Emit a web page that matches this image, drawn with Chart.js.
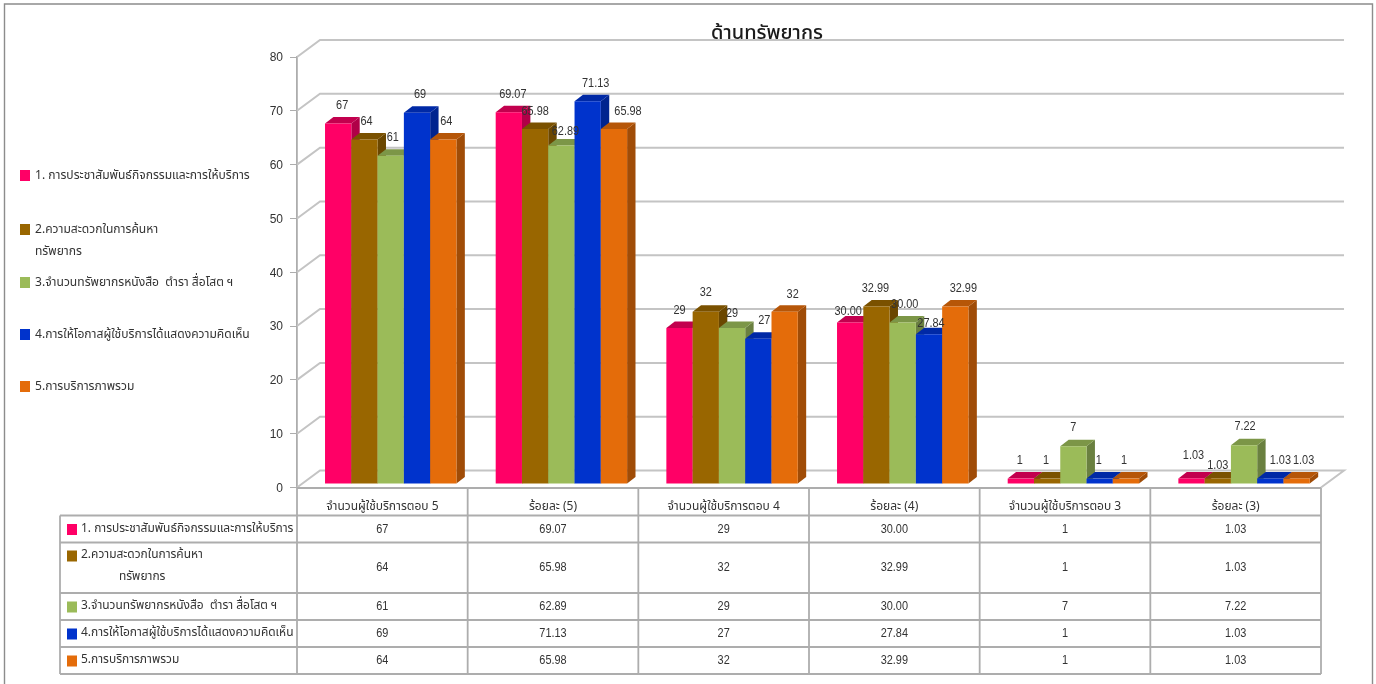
<!DOCTYPE html>
<html lang="th">
<head>
<meta charset="UTF-8">
<title>ด้านทรัพยากร</title>
<script src="https://cdnjs.cloudflare.com/ajax/libs/Chart.js/4.4.1/chart.umd.min.js"></script>
<style>
  html, body { margin: 0; padding: 0; background: #fff; }
  canvas { display: block; }
</style>
</head>
<body>
<canvas id="myChart" width="1376" height="684"></canvas>
<script>
var categories = ['จำนวนผู้ใช้บริการตอบ 5', 'ร้อยละ (5)', 'จำนวนผู้ใช้บริการตอบ 4', 'ร้อยละ (4)', 'จำนวนผู้ใช้บริการตอบ 3', 'ร้อยละ (3)'];
var seriesNames = ['1. การประชาสัมพันธ์กิจกรรมและการให้บริการ', '2.ความสะดวกในการค้นหา', '3.จำนวนทรัพยากรหนังสือ  ตำรา สื่อโสต ฯ', '4.การให้โอกาสผู้ใช้บริการได้แสดงความคิดเห็น', '5.การบริการภาพรวม'];
var wrappedName = 'ทรัพยากร';
var series1 = [67, 69.07, 29, 30.00, 1, 1.03];
var series2 = [64, 65.98, 32, 32.99, 1, 1.03];
var series3 = [61, 62.89, 29, 30.00, 7, 7.22];
var series4 = [69, 71.13, 27, 27.84, 1, 1.03];
var series5 = [64, 65.98, 32, 32.99, 1, 1.03];
var yTicks = [0, 10, 20, 30, 40, 50, 60, 70, 80];

var allSeries = [series1, series2, series3, series4, series5];
var frontColors = ['#FF0066', '#996600', '#9BBB59', '#0033CC', '#E46C0A'];
var topColors = ['#C2004E', '#7A5100', '#7C9647', '#0029A6', '#B65608'];
var sideColors = ['#B00047', '#6B4700', '#6A8040', '#00248F', '#A04C07'];

// how far each value label sits from the top middle of its bar
var labelNudge = [
  [[4, -18], [4, -18], [0, -18], [-2, -11], [-1, -18], [2, -23]],
  [[2, -18], [0, -18], [0, -19], [-1, -18], [-1, -18], [0, -13]],
  [[2, -18], [4, -14], [0, -15], [2, -18], [0, -19], [1, -19]],
  [[3, -18], [8, -18], [6, -18], [2, -11], [-1, -18], [10, -18]],
  [[3, -18], [14, -18], [8, -17], [8, -18], [-2, -18], [7, -18]]
];

var FONT = '"Noto Sans Thai", "Noto Sans", Tahoma, "DejaVu Sans", sans-serif';
var NUMFONT = '"Liberation Sans", sans-serif';
var LINE = '#c4c4c4';
var TABLELINE = '#adadad';
var TEXT = '#333';
var barShift = { x: 8.4, y: -3.5 };
var depth = { x: 8.4, y: 6.5 };
var wallShift = { x: 23, y: -17 };
var rowLines = [488, 515.5, 542.5, 593, 620, 647, 674];
var tableLeft = 60;

function poly(ctx, pts, color) {
  ctx.fillStyle = color;
  ctx.beginPath();
  pts.forEach(function (p, i) { if (i) ctx.lineTo(p[0], p[1]); else ctx.moveTo(p[0], p[1]); });
  ctx.closePath();
  ctx.fill();
}

function line(ctx, x1, y1, x2, y2) {
  ctx.beginPath();
  ctx.moveTo(x1, y1);
  ctx.lineTo(x2, y2);
  ctx.stroke();
}

function valueText(i, v) {
  return i % 2 ? v.toFixed(2) : String(v);
}

// the original screenshot is squeezed sideways, so its text is tall and narrow
function squeezedText(ctx, text, x, y, squeeze) {
  ctx.save();
  ctx.translate(x, y);
  ctx.scale(squeeze, 1);
  ctx.fillText(text, 0, 0);
  ctx.restore();
}

var walls = {
  id: 'walls',
  beforeDatasetsDraw: function (chart) {
    var ctx = chart.ctx, a = chart.chartArea, y = chart.scales.y;
    ctx.save();
    ctx.strokeStyle = LINE;
    ctx.lineWidth = 2;
    yTicks.forEach(function (t) {
      var py = y.getPixelForValue(t);
      ctx.beginPath();
      ctx.moveTo(a.left, py);
      ctx.lineTo(a.left + wallShift.x, py + wallShift.y);
      ctx.lineTo(a.right + wallShift.x, py + wallShift.y);
      if (t === 0) ctx.lineTo(a.right, py);
      ctx.stroke();
    });
    // 3d sides first, then the library's own bar on top, left to right
    ctx.translate(barShift.x, barShift.y);
    allSeries.forEach(function (s, d) {
      chart.getDatasetMeta(d).data.forEach(function (bar) {
        var l = bar.x - bar.width / 2, r = bar.x + bar.width / 2, top = bar.y, base = bar.base;
        poly(ctx, [[r, top], [r + depth.x, top - depth.y], [r + depth.x, base - depth.y], [r, base]], sideColors[d]);
        poly(ctx, [[l, top], [l + depth.x, top - depth.y], [r + depth.x, top - depth.y], [r, top]], topColors[d]);
        bar.draw(ctx, a);
      });
    });
    ctx.restore();
    return false;
  },
  afterDraw: function (chart) {
    var ctx = chart.ctx, x = chart.scales.x;
    ctx.save();
    ctx.textBaseline = 'middle';
    ctx.fillStyle = TEXT;

    // value labels
    ctx.font = '13px ' + NUMFONT;
    ctx.textAlign = 'center';
    allSeries.forEach(function (s, d) {
      chart.getDatasetMeta(d).data.forEach(function (bar, i) {
        var n = labelNudge[d][i];
        squeezedText(ctx, valueText(i, s[i]), bar.x + barShift.x + n[0], bar.y + barShift.y + n[1], 0.84);
      });
    });

    // title
    ctx.fillStyle = '#1a1a1a';
    ctx.font = '500 20px ' + FONT;
    ctx.textBaseline = 'alphabetic';
    ctx.fillText('ด้านทรัพยากร', 767, 39);
    ctx.textBaseline = 'middle';

    // left legend
    var legendY = [176, 230, 283, 335, 387];
    ctx.font = '13px ' + FONT;
    ctx.textAlign = 'left';
    seriesNames.forEach(function (name, d) {
      ctx.fillStyle = frontColors[d];
      ctx.fillRect(20, legendY[d] - 6, 10, 11);
      ctx.fillStyle = TEXT;
      squeezedText(ctx, name, 35, legendY[d], 0.93);
    });
    squeezedText(ctx, wrappedName, 35, 252, 0.93);

    // data table under the axis
    ctx.strokeStyle = TABLELINE;
    ctx.lineWidth = 1.8;
    var right = chart.chartArea.right, left = chart.chartArea.left;
    rowLines.forEach(function (ry, i) {
      line(ctx, i ? tableLeft : left, ry, right, ry);
    });
    line(ctx, tableLeft, rowLines[1], tableLeft, rowLines[6]);
    line(ctx, left, rowLines[0], left, rowLines[6]);
    var colWidth = (right - left) / categories.length;
    categories.forEach(function (c, i) {
      var cx = left + colWidth * (i + 1);
      line(ctx, cx, rowLines[0], cx, rowLines[6]);
    });
    seriesNames.forEach(function (name, d) {
      var top = rowLines[d + 1], bottom = rowLines[d + 2];
      var my = (top + bottom) / 2;
      var ny = d === 1 ? top + 13 : my;
      ctx.fillStyle = frontColors[d];
      ctx.fillRect(67, ny - 5, 10, 11);
      ctx.fillStyle = TEXT;
      ctx.textAlign = 'left';
      ctx.font = '13px ' + FONT;
      squeezedText(ctx, name, 81, ny, 0.92);
      if (d === 1) squeezedText(ctx, wrappedName, 119, ny + 22, 0.92);
      ctx.textAlign = 'center';
      ctx.font = '13px ' + NUMFONT;
      allSeries[d].forEach(function (v, i) {
        squeezedText(ctx, valueText(i, v), x.getPixelForValue(i), my, 0.84);
      });
    });

    // picture frame
    ctx.strokeStyle = '#8c8c8c';
    ctx.lineWidth = 1.4;
    ctx.beginPath();
    ctx.moveTo(4.5, 684);
    ctx.lineTo(4.5, 4);
    ctx.lineTo(1372.5, 4);
    ctx.lineTo(1372.5, 684);
    ctx.stroke();
    ctx.restore();
  }
};

new Chart(document.getElementById('myChart'), {
  type: 'bar',
  data: {
    labels: categories,
    datasets: allSeries.map(function (s, d) {
      return { label: seriesNames[d], data: s, backgroundColor: frontColors[d], borderWidth: 0 };
    })
  },
  options: {
    responsive: false,
    animation: false,
    layout: { padding: { top: 57, right: 55, left: 0, bottom: 0 } },
    categoryPercentage: 0.77,
    barPercentage: 1,
    plugins: { legend: { display: false }, title: { display: false }, tooltip: { enabled: false } },
    scales: {
      x: {
        grid: { display: false },
        border: { display: false },
        ticks: { color: TEXT, font: { size: 12, family: FONT }, padding: 5, maxRotation: 0 },
        afterFit: function (s) { s.height = 196.5; }
      },
      y: {
        min: 0,
        max: 80,
        afterBuildTicks: function (s) { s.ticks = yTicks.map(function (v) { return { value: v }; }); },
        grid: { drawOnChartArea: false, color: TABLELINE, tickLength: 7 },
        border: { color: TABLELINE, width: 1.8 },
        ticks: { color: TEXT, font: { size: 12, family: NUMFONT }, padding: 7, labelOffset: 1 },
        afterFit: function (s) { s.width = 297; }
      }
    }
  },
  plugins: [walls]
});
</script>
</body>
</html>
